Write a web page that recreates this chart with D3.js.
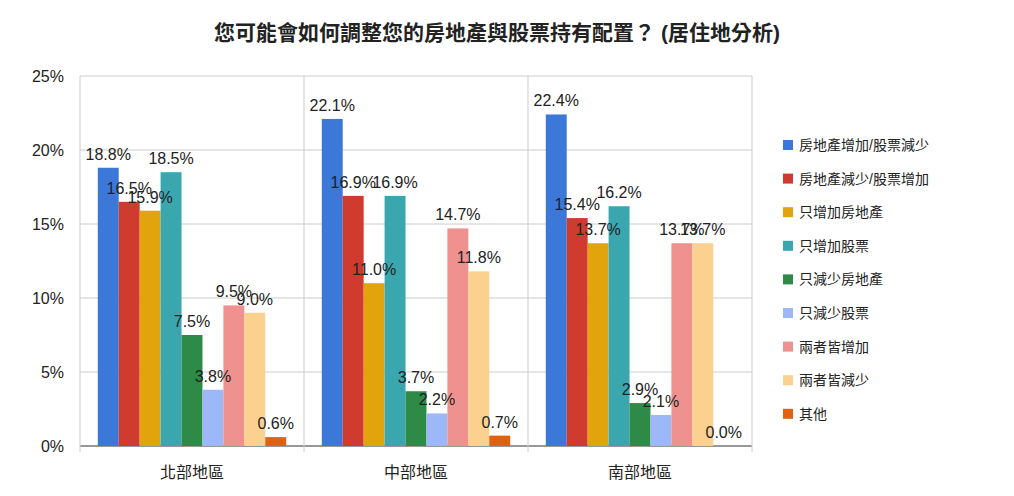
<!DOCTYPE html>
<html><head><meta charset="utf-8">
<script src="https://cdn.jsdelivr.net/npm/d3@7"></script>
<style>body{margin:0;background:#fff}text{font-family:Arial,"Liberation Sans","Noto Sans CJK TC",sans-serif}</style>
</head><body><svg id="c" width="1014" height="496"></svg>
<script>
let regions = ["北部地區", "中部地區", "南部地區"]
let series = ["房地產增加/股票減少", "房地產減少/股票增加", "只增加房地產", "只增加股票", "只減少房地產", "只減少股票", "兩者皆增加", "兩者皆減少", "其他"]
let colors = ["#3c78d8", "#d03b2f", "#e2a40c", "#3aa7ae", "#2e8b47", "#9cb8f8", "#ef918f", "#fcd08e", "#e0620e"]
let values = [
    [18.8, 16.5, 15.9, 18.5, 7.5, 3.8, 9.5, 9.0, 0.6],
    [22.1, 16.9, 11.0, 16.9, 3.7, 2.2, 14.7, 11.8, 0.7],
    [22.4, 15.4, 13.7, 16.2, 2.9, 2.1, 13.7, 13.7, 0.0]
]
let yTicks = [0, 5, 10, 15, 20, 25]

let svg = d3.select("#c")
let plotL = 80, plotR = 752, plotT = 76, plotB = 446

let x0 = d3.scaleBand(regions, [plotL, plotR])
let x1 = d3.scaleBand(series, [0, x0.bandwidth()]).paddingOuter(0.85)
let y = d3.scaleLinear([0, 25], [plotB, plotT])

svg.append("text").attr("x", 497).attr("y", 40).attr("text-anchor", "middle")
    .attr("font-size", 21).attr("font-weight", "bold").attr("fill", "#222")
    .text("您可能會如何調整您的房地產與股票持有配置？ (居住地分析)")

svg.selectAll(".grid").data(yTicks).enter().append("line")
    .attr("x1", plotL).attr("x2", plotR).attr("y1", d => y(d)).attr("y2", d => y(d))
    .attr("stroke", d => d === 0 ? "#333" : "#ccc")
svg.selectAll(".yl").data(yTicks).enter().append("text")
    .attr("x", 64).attr("y", d => y(d) + 6).attr("text-anchor", "end")
    .attr("font-size", 16).attr("fill", "#222").text(d => d + "%")
// group separators
let seps = [plotL, ...regions.map(r => x0(r) + x0.bandwidth())]
svg.selectAll(".sep").data(seps).enter().append("line")
    .attr("x1", d => d).attr("x2", d => d).attr("y1", plotT).attr("y2", plotB + 6)
    .attr("stroke", "#ccc")
svg.selectAll(".xl").data(regions).enter().append("text")
    .attr("x", d => x0(d) + x0.bandwidth() / 2).attr("y", 478).attr("text-anchor", "middle")
    .attr("font-size", 16).attr("fill", "#222").text(d => d)

regions.forEach((r, ri) => {
    let g = svg.append("g").attr("transform", `translate(${x0(r)},0)`)
    g.selectAll("rect").data(values[ri]).enter().append("rect")
        .attr("x", (d, i) => x1(series[i])).attr("width", x1.bandwidth())
        .attr("y", d => y(d)).attr("height", d => plotB - y(d))
        .attr("fill", (d, i) => colors[i])
    g.selectAll("text").data(values[ri]).enter().append("text")
        .attr("x", (d, i) => x1(series[i]) + x1.bandwidth() / 2)
        .attr("y", d => y(d) - 8).attr("text-anchor", "middle")
        .attr("font-size", 16).attr("fill", "#222").text(d => d.toFixed(1) + "%")
})

let lg = svg.selectAll(".lg").data(series).enter().append("g")
    .attr("transform", (d, i) => `translate(783,${145 + i * 33.6})`)
lg.append("rect").attr("x", 0).attr("y", -5).attr("width", 10).attr("height", 10)
    .attr("fill", (d, i) => colors[i])
lg.append("text").attr("x", 16).attr("y", 5).attr("font-size", 14).attr("fill", "#222").text(d => d)
</script></body></html>
